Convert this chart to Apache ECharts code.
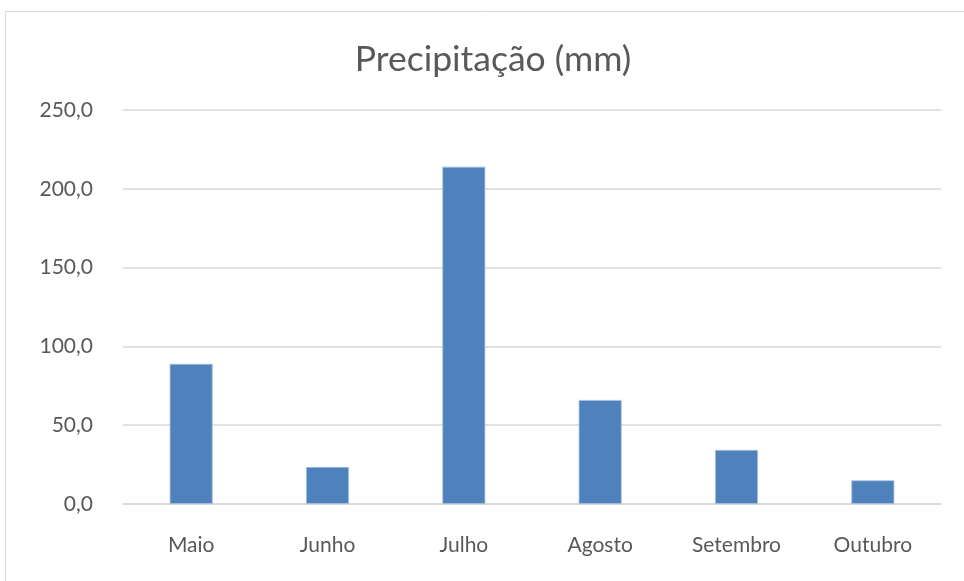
<!DOCTYPE html>
<html>
<head>
<meta charset="utf-8">
<title>Precipitação (mm)</title>
<script src="https://cdn.jsdelivr.net/npm/echarts@6/dist/echarts.min.js"></script>
<style>
  html, body { margin: 0; padding: 0; background: #ffffff; }
  #chart { width: 964px; height: 581px; }
</style>
</head>
<body>
<div id="chart"></div>
<script>
// Monthly rainfall totals
const months = ['Maio', 'Junho', 'Julho', 'Agosto', 'Setembro', 'Outubro'];
const rainfall = [88.9, 23.5, 214.0, 66.0, 34.3, 15.0];
const yTicks = [0, 50, 100, 150, 200, 250];

const FONT = 'Lato, "Open Sans", sans-serif';
const TEXT = '#595959';
const GRID = '#d9d9d9';

const chart = echarts.init(document.getElementById('chart'), null, { renderer: 'canvas' });

chart.setOption({
  animation: false,
  backgroundColor: '#ffffff',
  graphic: [{
    type: 'rect',
    silent: true,
    shape: { x: 5.5, y: 11.5, width: 1000, height: 600 },
    style: { fill: 'none', stroke: GRID, lineWidth: 1 }
  }],
  title: {
    text: 'Precipitação (mm)',
    left: 488,
    top: 37,
    textAlign: 'center',
    textStyle: { fontFamily: FONT, fontSize: 35.5, fontWeight: 'normal', color: TEXT }
  },
  grid: { left: 123, right: 23, top: 110, bottom: 77 },
  xAxis: {
    type: 'category',
    data: months,
    axisLine: { show: true, lineStyle: { color: GRID, width: 1.5 } },
    axisTick: { show: false },
    axisLabel: { color: TEXT, fontFamily: FONT, fontSize: 21, margin: 31 }
  },
  yAxis: {
    type: 'value',
    min: yTicks[0],
    max: yTicks[yTicks.length - 1],
    interval: yTicks[1] - yTicks[0],
    axisLine: { show: false },
    axisTick: { show: false },
    splitLine: { lineStyle: { color: GRID, width: 1.5 } },
    axisLabel: {
      color: TEXT, fontFamily: FONT, fontSize: 21, margin: 30,
      formatter: v => v.toFixed(1).replace('.', ',')
    }
  },
  series: [{
    type: 'bar',
    data: rainfall,
    barWidth: 43,
    itemStyle: { color: '#4f81bd', borderColor: '#a7c0e0', borderWidth: 0.8 }
  }]
});
</script>
</body>
</html>
